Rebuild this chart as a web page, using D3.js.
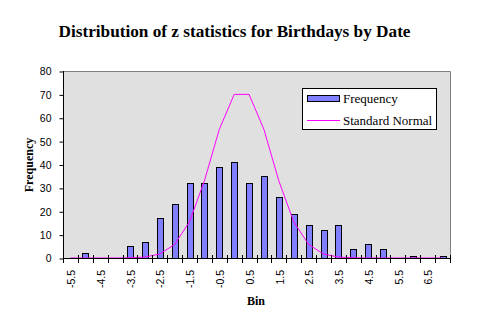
<!DOCTYPE html>
<html>
<head>
<meta charset="utf-8">
<script src="https://cdn.jsdelivr.net/npm/d3@7"></script>
<style>
  html, body { margin: 0; padding: 0; background: #fff; }
  svg { display: block; }
</style>
</head>
<body>
<svg id="chart" width="477" height="329"></svg>
<script>
// ---- data ----
const bins = [-5.5, -5, -4.5, -4, -3.5, -3, -2.5, -2, -1.5, -1, -0.5, 0, 0.5, 1, 1.5, 2, 2.5, 3, 3.5, 4, 4.5, 5, 5.5, 6, 6.5, 7];
const frequency = [0, 2, 0, 0, 5, 7, 17, 23, 32, 32, 39, 41, 32, 35, 26, 19, 14, 12, 14, 4, 6, 4, 0, 1, 0, 1];
const standardNormal = [0, 0, 0, 0, 0.1, 0.4, 1.7, 5.8, 15.5, 33, 55, 70, 70, 55, 33, 15.5, 5.8, 1.7, 0.4, 0.1, 0, 0, 0, 0, 0, 0];
const yTicks = [0, 10, 20, 30, 40, 50, 60, 70, 80];
const xTickLabels = ["-5.5", "-4.5", "-3.5", "-2.5", "-1.5", "-0.5", "0.5", "1.5", "2.5", "3.5", "4.5", "5.5", "6.5"];
const seriesNames = ["Frequency", "Standard Normal"];
const title = "Distribution of z statistics for Birthdays by Date";

// ---- layout ----
const L = 63, R = 450, T = 71, B = 258;
const svg = d3.select("#chart");
const serif = "'Liberation Serif', 'Times New Roman', serif";
const sans = "'Liberation Sans', Arial, sans-serif";

const x = d3.scaleBand().domain(bins.map(String)).range([L, R]).padding(0);
const y = d3.scaleLinear().domain([0, 80]).range([B, T]);
const bw = x.bandwidth();
const cx = i => x(String(bins[i])) + bw / 2;

// plot area
svg.append("rect").attr("x", L).attr("y", T).attr("width", R - L).attr("height", B - T)
  .attr("fill", "#E0E0E0");
svg.append("path")
  .attr("d", `M${L},${T + 0.5}H${R + 0.5}V${B}`)
  .attr("fill", "none").attr("stroke", "#808080").attr("stroke-width", 1);

// bars
svg.append("g").selectAll("rect").data(frequency).join("rect")
  .attr("x", (d, i) => Math.round(cx(i) - bw * 0.2) + 0.5)
  .attr("y", d => Math.round(y(d)) + 0.5)
  .attr("width", Math.round(bw * 0.4))
  .attr("height", d => Math.max(0, Math.round(y(0)) - Math.round(y(d))))
  .attr("fill", "#8080FF").attr("stroke", "#000").attr("stroke-width", 1)
  .attr("display", d => d > 0 ? null : "none");

// line
const line = d3.line().x((d, i) => cx(i)).y(d => y(d));
svg.append("path").datum(standardNormal).attr("d", line)
  .attr("fill", "none").attr("stroke", "#FF00FF").attr("stroke-width", 1);

// y axis
const yAxis = d3.axisLeft(y).tickValues(yTicks).tickSize(4).tickPadding(8);
const gy = svg.append("g").attr("transform", `translate(${L + 0.5},0.5)`).call(yAxis);
gy.select(".domain").attr("stroke", "#000").attr("d", `M0,${T - 0.5}V${B}`);
gy.selectAll(".tick line").attr("stroke", "#000");
gy.selectAll("text").attr("font-family", sans).attr("font-size", 10.5).attr("fill", "#000");

// x axis line + ticks
svg.append("line").attr("x1", L).attr("x2", R + 1).attr("y1", B + 0.5).attr("y2", B + 0.5)
  .attr("stroke", "#000");
const bounds = bins.map(b => x(String(b))).concat([R]);
svg.append("g").selectAll("line").data(bounds).join("line")
  .attr("x1", d => Math.round(d) + 0.5).attr("x2", d => Math.round(d) + 0.5)
  .attr("y1", B - 3).attr("y2", B + 5).attr("stroke", "#000");

// x tick labels (every other bin)
svg.append("g").selectAll("text").data(xTickLabels).join("text")
  .attr("transform", d => `translate(${x(String(+d)) + bw / 2 + 1},270) rotate(-90)`)
  .attr("text-anchor", "end").attr("dy", "0.35em")
  .attr("font-family", sans).attr("font-size", 10.5).attr("fill", "#000")
  .text(d => d);

// titles
svg.append("text").attr("x", 58.5).attr("y", 37)
  .attr("textLength", 352).attr("lengthAdjust", "spacingAndGlyphs")
  .attr("font-family", serif).attr("font-weight", "bold").attr("font-size", 17)
  .text(title);
svg.append("text").attr("transform", "translate(33,165) rotate(-90)").attr("text-anchor", "middle")
  .attr("font-family", serif).attr("font-weight", "bold").attr("font-size", 12)
  .text("Frequency");
svg.append("text").attr("x", 256).attr("y", 305).attr("text-anchor", "middle")
  .attr("font-family", serif).attr("font-weight", "bold").attr("font-size", 12)
  .text("Bin");

// legend
const lg = svg.append("g");
lg.append("rect").attr("x", 302.5).attr("y", 88.5).attr("width", 134).attr("height", 41)
  .attr("fill", "#fff").attr("stroke", "#000");
lg.append("rect").attr("x", 307.5).attr("y", 95.5).attr("width", 32).attr("height", 6)
  .attr("fill", "#8080FF").attr("stroke", "#000");
lg.append("line").attr("x1", 307).attr("x2", 340).attr("y1", 120.5).attr("y2", 120.5)
  .attr("stroke", "#FF00FF");
lg.selectAll("text.leg").data(seriesNames).join("text").attr("class", "leg")
  .attr("x", 343).attr("y", (d, i) => i === 0 ? 103 : 124.5)
  .attr("font-family", serif).attr("font-size", 13).attr("fill", "#000")
  .text(d => d);
</script>
</body>
</html>
